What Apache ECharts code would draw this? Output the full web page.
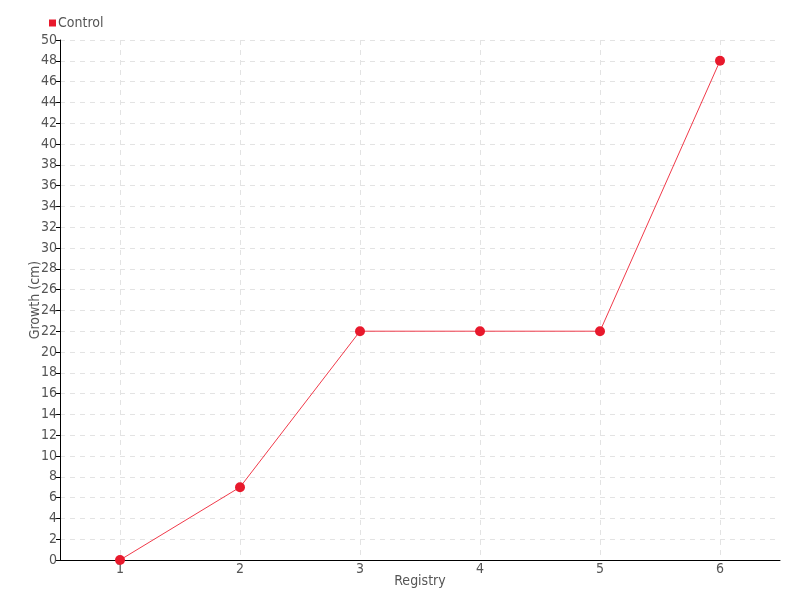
<!DOCTYPE html>
<html>
<head>
<meta charset="utf-8">
<script src="https://cdn.jsdelivr.net/npm/echarts@6/dist/echarts.min.js"></script>
<style>
  html, body { margin: 0; padding: 0; background: #fff; }
  #chart { width: 800px; height: 600px; }
</style>
</head>
<body>
<div id="chart"></div>
<script>
// data
var registry = ['1', '2', '3', '4', '5', '6'];
var control = [0, 7, 22, 22, 22, 48];

var font = '"DejaVu Sans Condensed", "Liberation Sans Narrow", sans-serif';
var chart = echarts.init(document.getElementById('chart'));
chart.setOption({
    animation: false,
    textStyle: { fontFamily: font },
    legend: {
        left: 44,
        top: 11,
        itemWidth: 7,
        itemHeight: 7,
        itemGap: 4,
        icon: 'rect',
        data: ['Control'],
        textStyle: { fontFamily: font, fontSize: 14, color: '#555', padding: [0, 0, 0, -3] }
    },
    grid: { left: 60, right: 20, top: 40, bottom: 40 },
    xAxis: {
        type: 'category',
        data: registry,
        name: 'Registry',
        nameLocation: 'middle',
        nameGap: 14,
        nameMoveOverlap: false,
        nameTextStyle: { fontFamily: font, fontSize: 14, color: '#555' },
        axisLine: { lineStyle: { color: '#000' } },
        axisTick: { alignWithLabel: true, length: 4, lineStyle: { color: '#000' } },
        axisLabel: { fontFamily: font, fontSize: 14, color: '#555', margin: 2 },
        splitLine: { show: true, alignWithLabel: true, lineStyle: { color: '#e3e3e3', type: [5, 5] } }
    },
    yAxis: {
        type: 'value',
        min: 0,
        max: 50,
        interval: 2,
        name: 'Growth (cm)',
        nameLocation: 'middle',
        nameGap: 18,
        nameMoveOverlap: false,
        nameTextStyle: { fontFamily: font, fontSize: 14, color: '#555' },
        axisLine: { show: true, lineStyle: { color: '#000' } },
        axisTick: { show: true, length: 4, lineStyle: { color: '#000' } },
        axisLabel: { fontFamily: font, fontSize: 14, color: '#555', margin: 3 },
        splitLine: { show: true, lineStyle: { color: '#e3e3e3', type: [5, 5] } }
    },
    series: [{
        name: 'Control',
        type: 'line',
        data: control,
        symbol: 'circle',
        symbolSize: 10,
        itemStyle: { color: '#e8192c' },
        lineStyle: { color: '#f03a4a', width: 1 }
    }]
});
</script>
</body>
</html>
